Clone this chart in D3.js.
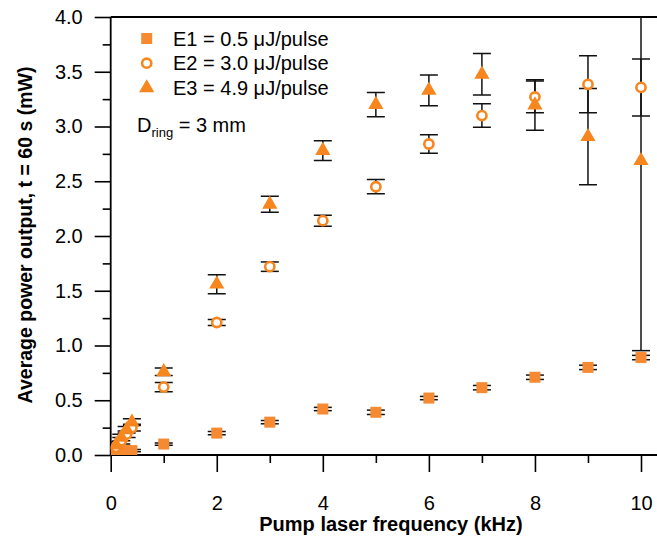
<!DOCTYPE html>
<html>
<head>
<meta charset="utf-8">
<script src="https://cdn.jsdelivr.net/npm/d3@7"></script>
<style>
  body{margin:0;background:#fff;}
  svg{font-family:"Liberation Sans",Arial,sans-serif;}
</style>
</head>
<body>
<div class="container"></div>
<script>
// pump frequency (kHz)
const freq=[0.1,0.2,0.3,0.4,1,2,3,4,5,6,7,8,9,10];
// average power (mW) and error for each pulse energy
const e1=[0.03,0.03,0.04,0.04,0.10,0.20,0.30,0.42,0.39,0.52,0.615,0.71,0.80,0.89];
const e1Err=[0.01,0.01,0.01,0.01,0.01,0.015,0.015,0.015,0.02,0.015,0.02,0.02,0.02,0.02];
const e2=[0.07,0.13,0.19,0.25,0.62,1.21,1.72,2.14,2.45,2.84,3.10,3.27,3.385,3.357];
const e2Err=[0.03,0.03,0.03,0.03,0.043,0.027,0.043,0.05,0.065,0.085,0.107,0.145,0.26,0.26];
const e3=[0.09,0.16,0.23,0.30,0.76,1.56,2.29,2.78,3.20,3.33,3.477,3.196,2.907,2.688];
const e3Err=[0.03,0.03,0.03,0.03,0.035,0.087,0.073,0.09,0.11,0.14,0.19,0.23,0.44,1.735];
const legendLabels=["E1 = 0.5 μJ/pulse","E2 = 3.0 μJ/pulse","E3 = 4.9 μJ/pulse"];
const yTicks=[0,0.5,1,1.5,2,2.5,3,3.5,4];
const xTicks=[0,2,4,6,8,10];

const w=657, h=540;
const padL=110.7, padR=641, padT=17, padB=455;
const orange="#F7861F";

const svg=d3.select(".container").append("svg")
    .attr("width",w).attr("height",h);

const x=d3.scaleLinear().domain([0,10]).range([padL,padR]);
const y=d3.scaleLinear().domain([0,4]).range([padB,padT]);

// clip so the big error bar stops at the frame
svg.append("clipPath").attr("id","plot")
   .append("rect").attr("x",padL).attr("y",padT).attr("width",w-padL).attr("height",padB-padT);

// axes
svg.append("g").attr("transform","translate(0,"+padB+")")
    .call(d3.axisBottom(x).tickValues(xTicks).tickFormat(d3.format("d")).tickSize(17).tickPadding(24));
svg.append("g").attr("transform","translate(0,"+padB+")")
    .call(d3.axisBottom(x).tickValues([1,3,5,7,9]).tickFormat("").tickSize(8));
svg.append("g").attr("transform","translate("+padL+",0)")
    .call(d3.axisLeft(y).tickValues(yTicks).tickFormat(d3.format(".1f")).tickSize(16).tickPadding(12));
svg.append("g").attr("transform","translate("+padL+",0)")
    .call(d3.axisLeft(y).tickValues(d3.range(0.25,4,0.5)).tickFormat("").tickSize(8));
svg.selectAll(".domain").remove();
svg.selectAll(".tick line").attr("stroke","#000").attr("stroke-width",1.6);
svg.selectAll(".tick text").attr("font-size","20px").attr("fill","#000");

// frame lines (right side is cut off by the picture)
svg.append("line").attr("x1",padL).attr("x2",padL).attr("y1",padT).attr("y2",padB)
   .attr("stroke","#000").attr("stroke-width",1.8);
svg.append("line").attr("x1",padL).attr("x2",w).attr("y1",padB).attr("y2",padB)
   .attr("stroke","#000").attr("stroke-width",1.8);
svg.append("line").attr("x1",padL).attr("x2",w).attr("y1",padT).attr("y2",padT)
   .attr("stroke","#000").attr("stroke-width",1.8);

const series=[
  {vals:e1,err:e1Err,shape:"square"},
  {vals:e2,err:e2Err,shape:"circle"},
  {vals:e3,err:e3Err,shape:"triangle"}
];

const plot=svg.append("g").attr("clip-path","url(#plot)");

// error bars first, markers on top
series.forEach(s=>{
  const g=plot.append("g");
  freq.forEach((f,i)=>{
    const cx=x(f), hi=y(s.vals[i]+s.err[i]), lo=y(s.vals[i]-s.err[i]);
    g.append("line").attr("x1",cx).attr("x2",cx).attr("y1",hi).attr("y2",lo)
     .attr("stroke","#111").attr("stroke-width",1.5);
    [hi,lo].forEach(yy=>{
      g.append("line").attr("x1",cx-9).attr("x2",cx+9).attr("y1",yy).attr("y2",yy)
       .attr("stroke","#111").attr("stroke-width",1.5);
    });
  });
});

const drawMarker=(g,shape,cx,cy)=>{
  if(shape=="square"){
    g.append("rect").attr("x",cx-5.5).attr("y",cy-5.5).attr("width",11).attr("height",11)
     .attr("fill","#F58A32");
  }else if(shape=="circle"){
    g.append("circle").attr("cx",cx).attr("cy",cy).attr("r",4.6)
     .attr("fill","#fff").attr("stroke",orange).attr("stroke-width",2.6);
  }else{
    g.append("path").attr("d",d3.symbol(d3.symbolTriangle,100)()).attr("transform","translate("+cx+","+(cy)+")")
     .attr("fill",orange);
  }
};

series.forEach(s=>{
  const g=plot.append("g");
  freq.forEach((f,i)=>drawMarker(g,s.shape,x(f),y(s.vals[i])));
});

// legend
const legend=svg.append("g");
legendLabels.forEach((t,i)=>{
  const ly=38.5+24.7*i;
  drawMarker(legend,series[i].shape,146.7,ly);
  legend.append("text").attr("x",173).attr("y",ly+7).attr("font-size","20px").text(t);
});
const dr=legend.append("text").attr("x",137).attr("y",132).attr("font-size","20px");
dr.append("tspan").text("D");
dr.append("tspan").attr("font-size","13px").attr("dy",5).text("ring");
dr.append("tspan").attr("dy",-5).text(" = 3 mm");

// axis titles
svg.append("text").attr("x",391).attr("y",531).attr("text-anchor","middle")
   .attr("font-size","20px").attr("font-weight","bold").text("Pump laser frequency (kHz)");
svg.append("text").attr("transform","translate(32,235) rotate(-90)").attr("text-anchor","middle")
   .attr("font-size","19.5px").attr("font-weight","bold").text("Average power output, t = 60 s (mW)");
</script>
</body>
</html>
